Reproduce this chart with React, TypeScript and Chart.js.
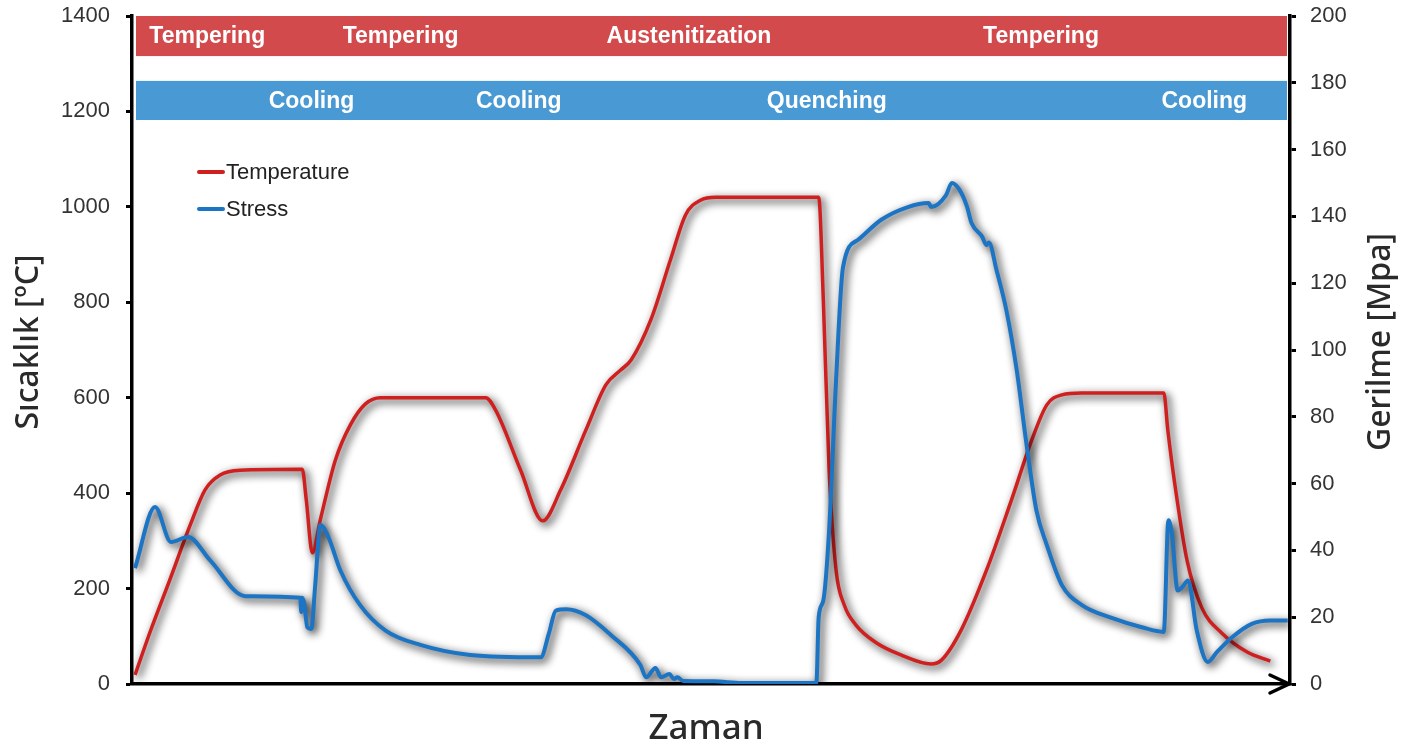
import React, { useEffect, useRef } from "react";
import { Chart, registerables } from "chart.js";

Chart.register(...registerables);

// Time (arbitrary units, 0..100) and temperature [°C]
const tempTime = [0.26, 1.56, 3.29, 5.02, 6.31, 7.61, 9.34, 14.7, 15.05, 15.57, 16.26, 17.56, 18.86, 20.16, 21.45, 30.54, 31.4, 33.56, 35.47, 37.02, 39.19, 40.92, 42.2, 43.1, 44.8, 46.5, 47.8, 49.1, 50.4, 59.3, 59.7, 60.2, 60.8, 61.5, 62.5, 64.3, 66.4, 69.0, 69.9, 71.6, 73.8, 75.95, 77.7, 79.0, 80.3, 82.0, 89.1, 89.45, 90.0, 91.1, 92.4, 94.1, 96.3, 98.3];
const tempValues = [19, 109, 220, 333, 407, 438, 448, 450, 386, 275, 344, 469, 543, 587, 600, 600, 574, 448, 342, 407, 532, 627, 658, 679, 763, 889, 983, 1014, 1020, 1020, 805, 448, 239, 166, 124, 86, 61, 42, 50, 113, 239, 386, 511, 585, 606, 610, 610, 532, 428, 260, 159, 107, 67, 48];

// Time and stress [MPa]
const stressTime = [0.26, 1.99, 3.37, 4.84, 6.75, 9.78, 14.53, 14.62, 14.7, 14.88, 15.14, 15.48, 15.83, 16.26, 16.96, 18.0, 19.7, 21.9, 24.9, 29.2, 35.3, 35.99, 36.6, 37.5, 39.2, 41.35, 43.9, 44.4, 45.2, 45.7, 46.4, 46.8, 47.1, 47.6, 50.2, 52.6, 59.1, 59.3, 59.7, 60.2, 60.8, 61.4, 62.7, 64.7, 67.0, 68.8, 69.0, 70.3, 70.8, 71.45, 72.1, 72.5, 73.4, 73.8, 74.0, 74.65, 75.5, 76.4, 77.2, 78.1, 79.0, 80.3, 82.0, 84.6, 87.2, 89.1, 89.5, 89.8, 90.3, 90.7, 91.2, 91.95, 92.9, 93.7, 95.0, 96.7, 98.3, 99.8];
const stressValues = [34.7, 53, 42.5, 44, 37, 26.3, 25.8, 21.5, 25.8, 24, 17, 16.5, 30, 47.6, 44, 34, 23.6, 16, 11.7, 8.7, 8, 15, 22, 22.4, 20.6, 14.7, 5.7, 2, 4.8, 2, 3, 1.5, 2, 0.9, 0.8, 0.3, 0.3, 20, 25, 46, 91, 124.8, 133, 139, 142.8, 144, 142.8, 146.4, 150, 148, 143, 138, 134, 131.4, 132.2, 124, 112, 94, 73, 52, 41.6, 29.6, 23.7, 19.8, 17, 15.6, 49, 45, 28, 29, 31, 16, 6.6, 9.6, 14, 18, 19, 19];

// Process stage bands
const topBandLabels = ["Tempering", "Tempering", "Austenitization", "Tempering"];
const topBandPos = [6.5, 23.2, 48.1, 78.5];
const bottomBandLabels = ["Cooling", "Cooling", "Quenching", "Cooling"];
const bottomBandPos = [15.5, 33.4, 60.0, 92.6];
const topBandRange = [1316, 1400];
const bottomBandRange = [1182, 1264];

const leftTicks = [0, 200, 400, 600, 800, 1000, 1200, 1400];
const rightTicks = [0, 20, 40, 60, 80, 100, 120, 140, 160, 180, 200];

const seriesNames = ["Temperature", "Stress"];
const RED = "#d01f1f";
const BLUE = "#1c74c4";

const bandsPlugin = {
  id: "bands",
  beforeDatasetsDraw(chart: any) {
    const { ctx, chartArea, scales } = chart;
    const y = scales.y;
    const x = scales.x;
    const l = chartArea.left + 4;
    const r = chartArea.right - 3;
    ctx.save();
    const t1 = y.getPixelForValue(topBandRange[1]);
    const t0 = y.getPixelForValue(topBandRange[0]);
    ctx.fillStyle = "#d24a4c";
    ctx.fillRect(l, t1, r - l, t0 - t1);
    const b1 = y.getPixelForValue(bottomBandRange[1]);
    const b0 = y.getPixelForValue(bottomBandRange[0]);
    ctx.fillStyle = "#4899d4";
    ctx.fillRect(l, b1, r - l, b0 - b1);
    ctx.fillStyle = "#ffffff";
    ctx.font = "bold 23px 'Liberation Sans', Arial, sans-serif";
    ctx.textAlign = "center";
    ctx.textBaseline = "middle";
    topBandLabels.forEach((s, i) => ctx.fillText(s, x.getPixelForValue(topBandPos[i]), (t0 + t1) / 2 + 1));
    bottomBandLabels.forEach((s, i) => ctx.fillText(s, x.getPixelForValue(bottomBandPos[i]), (b0 + b1) / 2 + 1));
    ctx.restore();
    // shadow for lines
    ctx.save();
    ctx.shadowColor = "rgba(0,0,0,0.95)";
    ctx.shadowBlur = 9;
    ctx.shadowOffsetX = 3;
    ctx.shadowOffsetY = 3;
  },
  afterDatasetsDraw(chart: any) {
    chart.ctx.restore();
  },
};

const decorPlugin = {
  id: "decor",
  afterDraw(chart: any) {
    const { ctx, chartArea } = chart;
    ctx.save();
    // arrow head on x axis
    ctx.strokeStyle = "#000";
    ctx.lineWidth = 3.5;
    ctx.lineCap = "round";
    ctx.lineJoin = "miter";
    const tipX = chartArea.right - 1;
    const tipY = chartArea.bottom;
    ctx.beginPath();
    ctx.moveTo(tipX - 19, tipY - 9);
    ctx.lineTo(tipX, tipY);
    ctx.lineTo(tipX - 19, tipY + 9);
    ctx.stroke();

    // legend
    ctx.font = "22px 'Liberation Sans', Arial, sans-serif";
    ctx.textBaseline = "middle";
    ctx.textAlign = "left";
    const colors = [RED, BLUE];
    seriesNames.forEach((n, i) => {
      const yy = 172 + i * 37;
      ctx.strokeStyle = colors[i];
      ctx.lineWidth = 4;
      ctx.lineCap = "round";
      ctx.beginPath();
      ctx.moveTo(199, yy);
      ctx.lineTo(223, yy);
      ctx.stroke();
      ctx.fillStyle = "#222";
      ctx.fillText(n, 226, yy + 1);
    });

    // axis titles
    ctx.fillStyle = "#2a2a2a";
    ctx.textAlign = "center";
    ctx.font = "500 32px 'Noto Sans', 'Open Sans', sans-serif";
    ctx.save();
    ctx.translate(29, 342);
    ctx.rotate(-Math.PI / 2);
    ctx.fillText("Sıcaklık [ºC]", 0, 0);
    ctx.restore();
    ctx.save();
    ctx.translate(1381, 342);
    ctx.rotate(-Math.PI / 2);
    ctx.fillText("Gerilme [Mpa]", 0, 0);
    ctx.restore();
    ctx.font = "500 35px 'Noto Sans', 'Open Sans', sans-serif";
    ctx.fillText("Zaman", 706, 729);
    ctx.restore();
  },
};

function zeroPad(s: any) {
  s.paddingTop = 0;
  s.paddingBottom = 0;
}

export default function App() {
  const ref = useRef<HTMLCanvasElement | null>(null);
  useEffect(() => {
    document.body.style.margin = "0";
    const canvas = ref.current!;
    const tempData = tempTime.map((t, i) => ({ x: t, y: tempValues[i] }));
    const stressData = stressTime.map((t, i) => ({ x: t, y: stressValues[i] }));
    const chart = new Chart(canvas, {
      type: "line",
      data: {
        datasets: [
          {
            label: seriesNames[0],
            data: tempData,
            yAxisID: "y",
            borderColor: RED,
            borderWidth: 3.5,
            pointRadius: 0,
            cubicInterpolationMode: "monotone",
            order: 2,
          },
          {
            label: seriesNames[1],
            data: stressData,
            yAxisID: "y1",
            borderColor: BLUE,
            borderWidth: 4,
            pointRadius: 0,
            cubicInterpolationMode: "monotone",
            order: 1,
          },
        ],
      },
      options: {
        responsive: false,
        animation: false,
        layout: { padding: { top: 16, left: 0, right: 0, bottom: 0 }, autoPadding: false },
        plugins: { legend: { display: false }, tooltip: { enabled: false }, title: { display: false } },
        scales: {
          x: {
            type: "linear",
            min: 0,
            max: 100,
            grid: { display: false },
            ticks: { display: false },
            border: { display: true, color: "#000", width: 3.5 },
            afterFit(s: any) {
              s.height = 67;
              s.paddingLeft = 0;
              s.paddingRight = 0;
            },
          },
          y: {
            type: "linear",
            position: "left",
            min: 0,
            max: 1400,
            afterBuildTicks(s: any) {
              s.ticks = leftTicks.map((v) => ({ value: v }));
            },
            grid: { drawOnChartArea: false, drawTicks: true, tickLength: 6, tickWidth: 3, tickColor: "#000" },
            border: { display: true, color: "#000", width: 3.5 },
            ticks: {
              padding: 16,
              color: "#333",
              font: { size: 22, family: "'Liberation Sans', Arial, sans-serif" },
              callback: (v: any) => String(v),
            },
            afterFit(s: any) {
              s.width = 132;
              zeroPad(s);
            },
          },
          y1: {
            type: "linear",
            position: "right",
            min: 0,
            max: 200,
            afterBuildTicks(s: any) {
              s.ticks = rightTicks.map((v) => ({ value: v }));
            },
            grid: { drawOnChartArea: false, drawTicks: true, tickLength: 6, tickWidth: 3, tickColor: "#000" },
            border: { display: true, color: "#000", width: 3.5 },
            ticks: {
              padding: 14,
              color: "#333",
              font: { size: 22, family: "'Liberation Sans', Arial, sans-serif" },
              callback: (v: any) => String(v),
            },
            afterFit(s: any) {
              s.width = 123;
              zeroPad(s);
            },
          },
        },
      },
      plugins: [bandsPlugin, decorPlugin],
    });
    return () => chart.destroy();
  }, []);
  return <canvas ref={ref} width={1413} height={751} style={{ display: "block" }} />;
}
